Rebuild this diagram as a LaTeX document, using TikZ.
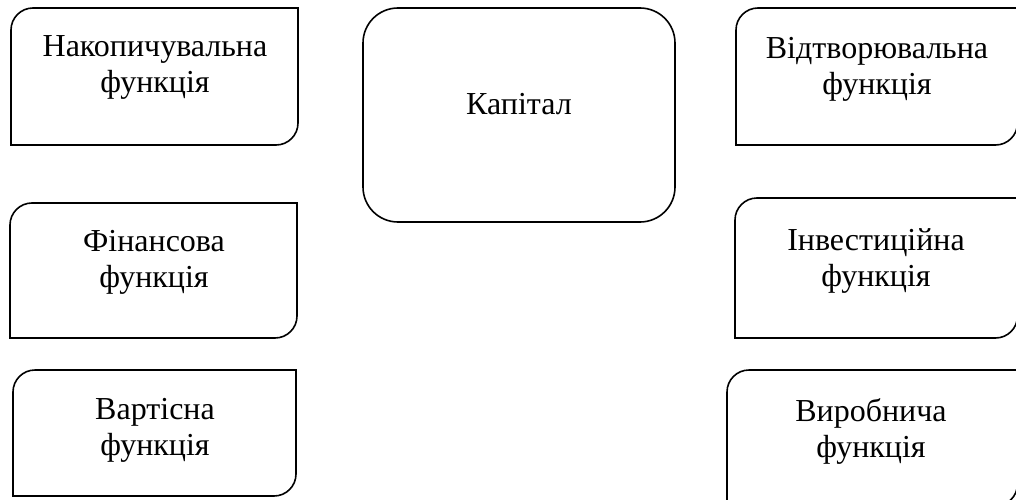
\documentclass[tikz,border=0pt]{standalone}
\usepackage{fontspec}
\setmainfont{Liberation Serif}
\newcommand{\snipbox}[5]{%
  \draw[boxline] ({#1},{499-#4}) -- ({#1},{499-#2-#5})
    arc[start angle=180,end angle=90,radius=#5] -- ({#3},{499-#2})
    -- ({#3},{499-#4+#5}) arc[start angle=0,end angle=-90,radius=#5] -- cycle;}
\tikzset{
  boxline/.style={draw=black, line width=1.6pt},
  label/.style={inner sep=0pt, align=center, anchor=north,
    font=\fontsize{32}{36}\selectfont},
}
\begin{document}
\begin{tikzpicture}[x=1pt,y=1pt]
\useasboundingbox (0,0) rectangle (1016,499);
\clip (0,0) rectangle (1016,499);
% boxes
\snipbox{11}{8}{298}{145}{22}
\snipbox{736}{8}{1017.5}{145}{22}
\snipbox{10}{203}{297}{338}{22}
\snipbox{735}{198}{1017.5}{338}{22}
\snipbox{13}{370}{296}{496}{22}
\snipbox{727}{370}{1017.5}{506}{22}
\draw[boxline, rounded corners=35pt] (363,{499-8}) rectangle (675,{499-222});
% texts
\node[label] (nak) at (155,{499-35}) {Накопичувальна\\функція};
\node[label] (vid) at (877,{499-37}) {Відтворювальна\\функція};
\node[label] (fin) at (154,{499-230}) {Фінансова\\функція};
\node[label] (inv) at (876,{499-228}) {Інвестиційна\\функція};
\node[label] (var) at (155,{499-398}) {Вартісна\\функція};
\node[label] (vyr) at (871,{499-398}) {Виробнича\\функція};
\node[label] (kap) at (519,{499-93}) {Капітал};
\end{tikzpicture}
\end{document}
